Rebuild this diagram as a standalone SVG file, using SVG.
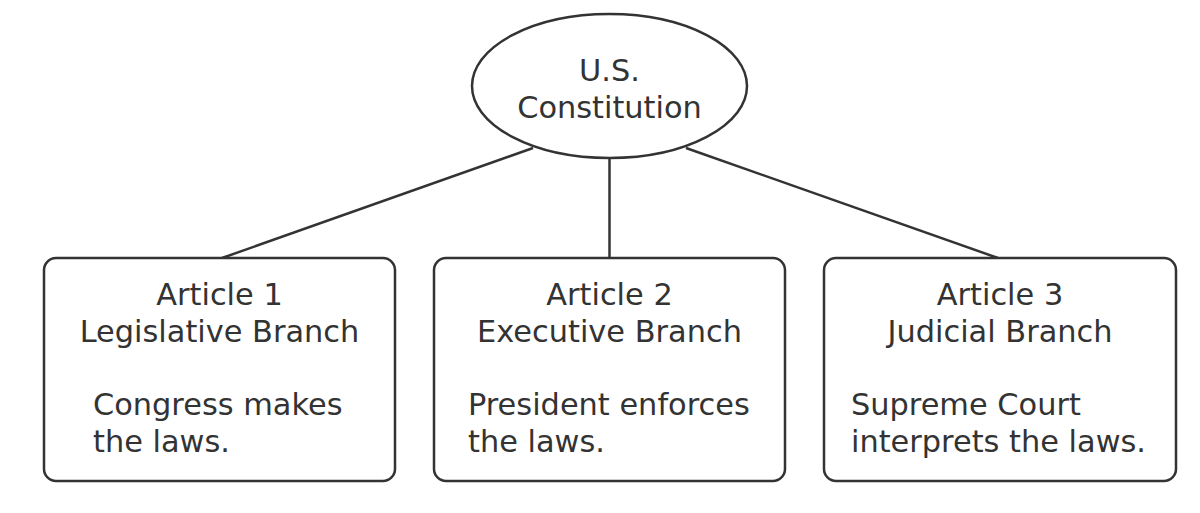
<svg xmlns="http://www.w3.org/2000/svg" width="1200" height="513" viewBox="0 0 1200 513">
<style>
.shape{fill:#fff;stroke:#333;stroke-width:2.5}
.conn line{stroke:#333;stroke-width:2.5}
text{font-family:"DejaVu Sans",Verdana,sans-serif;font-size:30.4px;fill:#333}
.c{text-anchor:middle}
</style>
<rect width="1200" height="513" fill="#fff"/>
<g id="connectors" class="conn">
<line x1="533" y1="148" x2="222" y2="258"/>
<line x1="609.5" y1="158" x2="609.5" y2="258"/>
<line x1="686" y1="148" x2="998" y2="258"/>
</g>
<g id="constitution">
<ellipse class="shape" cx="609.5" cy="86" rx="137.5" ry="72"/>
<text class="c" x="609.5" y="81">U.S.</text>
<text class="c" x="609.5" y="118">Constitution</text>
</g>
<g id="article1">
<rect class="shape" x="44" y="258" width="351" height="223" rx="12"/>
<text class="c" x="219.5" y="305">Article 1</text>
<text class="c" x="219.5" y="342">Legislative Branch</text>
<text x="93" y="415">Congress makes</text>
<text x="93" y="452">the laws.</text>
</g>
<g id="article2">
<rect class="shape" x="434" y="258" width="351" height="223" rx="12"/>
<text class="c" x="609.5" y="305">Article 2</text>
<text class="c" x="609.5" y="342">Executive Branch</text>
<text x="468" y="415">President enforces</text>
<text x="468" y="452">the laws.</text>
</g>
<g id="article3">
<rect class="shape" x="824" y="258" width="352" height="223" rx="12"/>
<text class="c" x="1000" y="305">Article 3</text>
<text class="c" x="1000" y="342">Judicial Branch</text>
<text x="851" y="415">Supreme Court</text>
<text x="851" y="452">interprets the laws.</text>
</g>
</svg>
